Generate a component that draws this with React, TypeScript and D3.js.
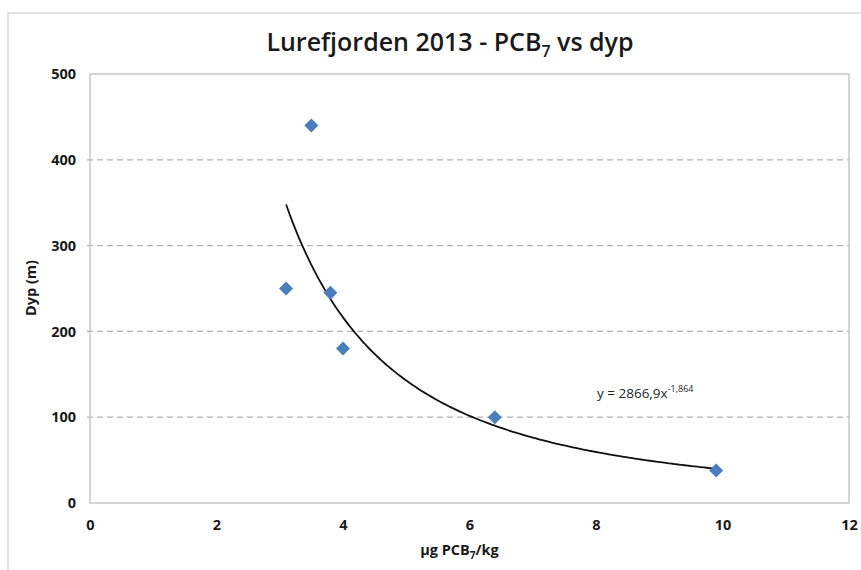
import React, { useEffect, useRef } from 'react';
import * as d3 from 'd3';

// measured samples: PCB7 (µg/kg) vs depth (m)
const pcb = [3.1, 3.5, 3.8, 4.0, 6.4, 9.9];
const depth = [250, 440, 245, 180, 100, 38];

// power trendline shown in the chart: y = a * x^b
const trendA = 2866.9;
const trendB = -1.864;

const xTicks = [0, 2, 4, 6, 8, 10, 12];
const yTicks = [0, 100, 200, 300, 400, 500];

const W = 861;
const H = 570;
const margin = { top: 74, right: 12, bottom: 67, left: 90 };
const font = "'Open Sans', 'DejaVu Sans', sans-serif";

const App: React.FC = () => {
  const svgRef = useRef<SVGSVGElement>(null);

  useEffect(() => {
    if (!svgRef.current) return;
    const svg = d3.select(svgRef.current);
    svg.selectAll('*').remove();

    const innerW = W - margin.left - margin.right;
    const innerH = H - margin.top - margin.bottom;

    const x = d3.scaleLinear().domain([0, 12]).range([0, innerW]);
    const y = d3.scaleLinear().domain([0, 500]).range([innerH, 0]);

    svg.append('rect').attr('width', W).attr('height', H).attr('fill', '#fff');
    // chart frame
    svg.append('rect')
      .attr('x', 8).attr('y', 13)
      .attr('width', W + 10).attr('height', H + 10)
      .attr('fill', 'none').attr('stroke', '#d9d9d9').attr('stroke-width', 1.5);

    svg.append('text')
      .attr('x', 450).attr('y', 51)
      .attr('text-anchor', 'middle')
      .attr('font-family', font).attr('font-size', 25).attr('font-weight', 600)
      .attr('fill', '#1a1a1a')
      .call(t => {
        t.append('tspan').text('Lurefjorden 2013 - PCB');
        t.append('tspan').attr('font-size', 16).attr('dy', 6).text('7');
        t.append('tspan').attr('dy', -6).text(' vs dyp');
      });

    const g = svg.append('g').attr('transform', `translate(${margin.left},${margin.top})`);

    // gridlines
    g.selectAll('.grid')
      .data(yTicks.filter(v => v > 0 && v < 500))
      .enter().append('line')
      .attr('x1', -3).attr('x2', innerW)
      .attr('y1', d => y(d)).attr('y2', d => y(d))
      .attr('stroke', '#b3b3b3').attr('stroke-width', 1.2)
      .attr('stroke-dasharray', '6,4');

    g.append('rect')
      .attr('width', innerW).attr('height', innerH)
      .attr('fill', 'none').attr('stroke', '#bfbfbf').attr('stroke-width', 1.3);

    const yAxis = d3.axisLeft(y).tickValues(yTicks).tickSize(0).tickPadding(14);
    const xAxis = d3.axisBottom(x).tickValues(xTicks).tickSize(0).tickPadding(17);

    const ya = g.append('g').call(yAxis);
    const xa = g.append('g').attr('transform', `translate(0,${innerH})`).call(xAxis);
    [ya, xa].forEach(a => {
      a.select('.domain').remove();
      a.selectAll('text')
        .attr('font-family', font).attr('font-size', 14.5).attr('font-weight', 700)
        .attr('fill', '#1a1a1a');
    });

    // trendline over data range
    const [xmin, xmax] = d3.extent(pcb) as [number, number];
    const trend = d3.range(xmin, xmax + 0.001, 0.05).map(v => [v, trendA * Math.pow(v, trendB)] as [number, number]);
    g.append('path')
      .datum(trend)
      .attr('d', d3.line<[number, number]>().x(d => x(d[0])).y(d => y(d[1])).curve(d3.curveMonotoneX))
      .attr('fill', 'none').attr('stroke', '#111').attr('stroke-width', 1.8);

    g.selectAll('.pt')
      .data(pcb.map((v, i) => [v, depth[i]]))
      .enter().append('path')
      .attr('transform', d => `translate(${x(d[0])},${y(d[1])})`)
      .attr('d', d3.symbol(d3.symbolDiamond2, 125)())
      .attr('fill', '#4a7ebb');

    // equation label
    svg.append('text')
      .attr('x', 597).attr('y', 398)
      .attr('font-family', font).attr('font-size', 13.5)
      .attr('fill', '#262626')
      .call(t => {
        t.append('tspan').text('y = 2866,9x');
        t.append('tspan').attr('font-size', 9).attr('dy', -6).text('-1,864');
      });

    svg.append('text')
      .attr('x', margin.left + innerW / 2 - 10).attr('y', 555)
      .attr('text-anchor', 'middle')
      .attr('font-family', font).attr('font-size', 14.5).attr('font-weight', 700)
      .attr('fill', '#1a1a1a')
      .call(t => {
        t.append('tspan').text('µg PCB');
        t.append('tspan').attr('font-size', 10).attr('dy', 4).text('7');
        t.append('tspan').attr('dy', -4).text('/kg');
      });

    svg.append('text')
      .attr('transform', 'translate(36,288) rotate(-90)')
      .attr('text-anchor', 'middle')
      .attr('font-family', font).attr('font-size', 14.5).attr('font-weight', 700)
      .attr('fill', '#1a1a1a')
      .text('Dyp (m)');
  }, []);

  return (
    <svg
      ref={svgRef}
      width={W}
      height={H}
      style={{ position: 'absolute', left: 0, top: 0, display: 'block' }}
    />
  );
};

export default App;
